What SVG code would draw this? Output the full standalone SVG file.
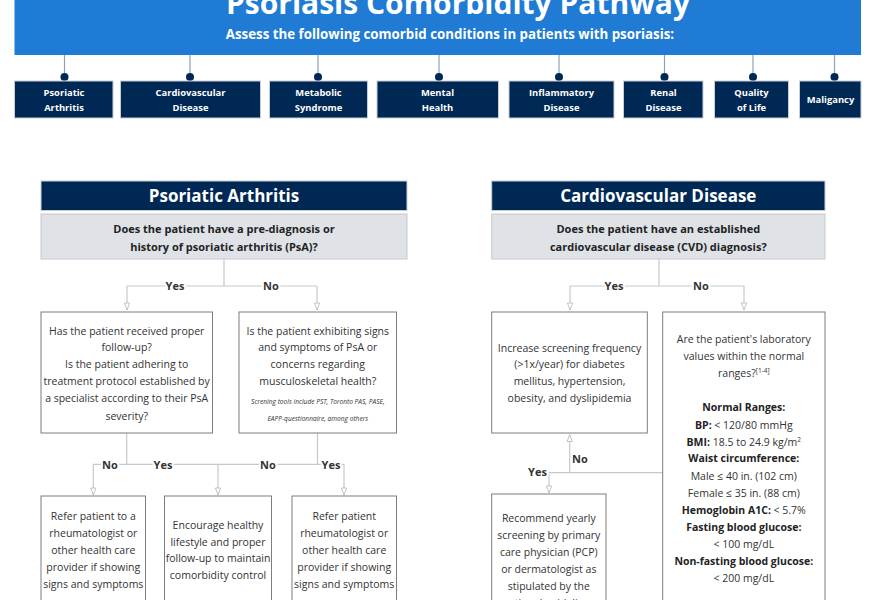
<svg xmlns="http://www.w3.org/2000/svg" width="870" height="600" viewBox="0 0 870 600">
<defs>
<style>
text{font-family:"Open Sans","Liberation Sans",sans-serif;}
.title{font-size:30px;font-weight:700;fill:#fff;text-anchor:middle;}
.sub{font-size:13.3px;font-weight:700;fill:#fff;text-anchor:middle;}
.cat{fill:#002855;stroke:#c9ced6;stroke-width:1;}
.catt{font-size:9.4px;font-weight:700;fill:#fff;text-anchor:middle;}
.stem{stroke:#8da2bd;stroke-width:1.2;fill:none;}
.dot{fill:#002855;}
.hdr{fill:#002855;stroke:#c9ced6;stroke-width:1;}
.hdrt{font-size:17px;font-weight:700;fill:#fff;text-anchor:middle;}
.q{fill:#dfe2e6;stroke:#c6cacf;stroke-width:1;}
.qt{font-size:11px;font-weight:700;fill:#222;text-anchor:middle;}
.box{fill:#fff;stroke:#7d7d7d;stroke-width:1;}
.bt{font-size:10.5px;fill:#333;text-anchor:middle;}
.bb{font-size:10.5px;font-weight:700;fill:#222;text-anchor:middle;}
.it{font-size:6.6px;font-style:italic;fill:#333;text-anchor:middle;}
.ln{stroke:#c5c9ce;stroke-width:1.2;fill:none;}
.lbl{font-size:11px;font-weight:700;fill:#333;text-anchor:middle;stroke:#fff;stroke-width:4;paint-order:stroke;stroke-linejoin:round;}
</style>
<marker id="arr" viewBox="0 0 10 8" refX="9" refY="4" markerWidth="9" markerHeight="7" orient="auto" markerUnits="userSpaceOnUse">
<path d="M1,1 L9,4 L1,7 Z" fill="#fff" stroke="#b5bcc5" stroke-width="1"/>
</marker>
</defs>

<g id="header">
<rect x="14.5" y="-5" width="846.5" height="60" fill="#1f7bd4"/>
<text class="title" x="458" y="14">Psoriasis Comorbidity Pathway</text>
<text class="sub" x="450" y="38.5">Assess the following comorbid conditions in patients with psoriasis:</text>
</g>

<g id="stems">
<path class="stem" d="M64.5,55V77 M190,55V77 M318,55V77 M439,55V77 M559,55V77 M664.5,55V77 M753,55V77 M834.5,55V77"/>
<circle class="dot" cx="64.5" cy="77" r="4"/>
<circle class="dot" cx="190" cy="77" r="4"/>
<circle class="dot" cx="318" cy="77" r="4"/>
<circle class="dot" cx="439" cy="77" r="4"/>
<circle class="dot" cx="559" cy="77" r="4"/>
<circle class="dot" cx="664.5" cy="77" r="4"/>
<circle class="dot" cx="753" cy="77" r="4"/>
<circle class="dot" cx="834.5" cy="77" r="4"/>
</g>

<g id="cat-psa"><rect class="cat" x="14.5" y="81" width="98.5" height="37"/><text class="catt" x="64" y="95.5">Psoriatic</text><text class="catt" x="64" y="111">Arthritis</text></g>
<g id="cat-cvd"><rect class="cat" x="120.5" y="81" width="140" height="37"/><text class="catt" x="190.5" y="95.5">Cardiovascular</text><text class="catt" x="190.5" y="111">Disease</text></g>
<g id="cat-met"><rect class="cat" x="269.5" y="81" width="98" height="37"/><text class="catt" x="318.5" y="95.5">Metabolic</text><text class="catt" x="318.5" y="111">Syndrome</text></g>
<g id="cat-mental"><rect class="cat" x="377" y="81" width="121.5" height="37"/><text class="catt" x="437.5" y="95.5">Mental</text><text class="catt" x="437.5" y="111">Health</text></g>
<g id="cat-inf"><rect class="cat" x="509" y="81" width="105" height="37"/><text class="catt" x="561.5" y="95.5">Inflammatory</text><text class="catt" x="561.5" y="111">Disease</text></g>
<g id="cat-renal"><rect class="cat" x="623.5" y="81" width="79.5" height="37"/><text class="catt" x="663.5" y="95.5">Renal</text><text class="catt" x="663.5" y="111">Disease</text></g>
<g id="cat-qol"><rect class="cat" x="714.5" y="81" width="74" height="37"/><text class="catt" x="751.5" y="95.5">Quality</text><text class="catt" x="751.5" y="111">of Life</text></g>
<g id="cat-mal"><rect class="cat" x="799.5" y="81" width="61.5" height="37"/><text class="catt" x="830.5" y="103">Maligancy</text></g>

<g id="connectors">
<path class="ln" d="M224,259V286 M127,286H317 M127,286V310" marker-end="url(#arr)"/>
<path class="ln" d="M317,286V310" marker-end="url(#arr)"/>
<path class="ln" d="M126.7,433V464.3 M93.3,464.3H218 M93.3,464.3V495" marker-end="url(#arr)"/>
<path class="ln" d="M218,464.3V495" marker-end="url(#arr)"/>
<path class="ln" d="M317.5,433V464.3 M218,464.3H344 M344,464.3V495" marker-end="url(#arr)"/>
<path class="ln" d="M659,259V286 M570,286H744 M570,286V310" marker-end="url(#arr)"/>
<path class="ln" d="M744,286V310" marker-end="url(#arr)"/>
<path class="ln" d="M662.7,472.7H549 M569.7,472.7V434.5" marker-end="url(#arr)"/>
<path class="ln" d="M549,472.7V493" marker-end="url(#arr)"/>
<text class="lbl" x="175" y="290">Yes</text>
<text class="lbl" x="271" y="290">No</text>
<text class="lbl" x="110" y="469">No</text>
<text class="lbl" x="163" y="469">Yes</text>
<text class="lbl" x="268" y="469">No</text>
<text class="lbl" x="331" y="469">Yes</text>
<text class="lbl" x="614" y="290">Yes</text>
<text class="lbl" x="701" y="290">No</text>
<text class="lbl" x="580" y="463">No</text>
<text class="lbl" x="537.5" y="475.5">Yes</text>
</g>

<g id="psa-header"><rect class="hdr" x="41" y="181" width="366" height="29.5"/><text class="hdrt" x="224" y="202">Psoriatic Arthritis</text></g>
<g id="psa-q"><rect class="q" x="41" y="214" width="366" height="45"/><text class="qt" x="224" y="233">Does the patient have a pre-diagnosis or</text><text class="qt" x="224" y="251">history of psoriatic arthritis (PsA)?</text></g>
<g id="psa-followup"><rect class="box" x="41" y="312" width="171.5" height="121"/>
<text class="bt" x="126.7" y="334.5">Has the patient received proper</text>
<text class="bt" x="126.7" y="351">follow-up?</text>
<text class="bt" x="126.7" y="368">Is the patient adhering to</text>
<text class="bt" x="126.7" y="385">treatment protocol established by</text>
<text class="bt" x="126.7" y="402">a specialist according to their PsA</text>
<text class="bt" x="126.7" y="419.5">severity?</text></g>
<g id="psa-signs"><rect class="box" x="239" y="312" width="157.5" height="121"/>
<text class="bt" x="317.8" y="334.5">Is the patient exhibiting signs</text>
<text class="bt" x="317.8" y="351">and symptoms of PsA or</text>
<text class="bt" x="317.8" y="368">concerns regarding</text>
<text class="bt" x="317.8" y="385">musculoskeletal health?</text>
<text class="it" x="317.8" y="404">Screning tools include PST, Toronto PAS, PASE,</text>
<text class="it" x="317.8" y="420.5">EAPP-questionnaire, among others</text></g>
<g id="psa-refer1"><rect class="box" x="41" y="496" width="104.5" height="120"/>
<text class="bt" x="93.3" y="520">Refer patient to a</text>
<text class="bt" x="93.3" y="537">rheumatologist or</text>
<text class="bt" x="93.3" y="554">other health care</text>
<text class="bt" x="93.3" y="571">provider if showing</text>
<text class="bt" x="93.3" y="588">signs and symptoms</text></g>
<g id="psa-encourage"><rect class="box" x="164.5" y="496" width="107" height="120"/>
<text class="bt" x="218" y="528.7">Encourage healthy</text>
<text class="bt" x="218" y="545.5">lifestyle and proper</text>
<text class="bt" x="218" y="562.3">follow-up to maintain</text>
<text class="bt" x="218" y="579.3">comorbidity control</text></g>
<g id="psa-refer2"><rect class="box" x="292" y="496" width="104.5" height="120"/>
<text class="bt" x="344.2" y="520">Refer patient</text>
<text class="bt" x="344.2" y="537">rheumatologist or</text>
<text class="bt" x="344.2" y="554">other health care</text>
<text class="bt" x="344.2" y="571">provider if showing</text>
<text class="bt" x="344.2" y="588">signs and symptoms</text></g>

<g id="cvd-header"><rect class="hdr" x="491.7" y="181" width="333.3" height="29.5"/><text class="hdrt" x="658.3" y="202">Cardiovascular Disease</text></g>
<g id="cvd-q"><rect class="q" x="491.7" y="214" width="333.3" height="45"/><text class="qt" x="658.3" y="233">Does the patient have an established</text><text class="qt" x="658.3" y="251">cardiovascular disease (CVD) diagnosis?</text></g>
<g id="cvd-increase"><rect class="box" x="491.7" y="312" width="155.6" height="121"/>
<text class="bt" x="569.5" y="351.5">Increase screening frequency</text>
<text class="bt" x="569.5" y="368">(&gt;1x/year) for diabetes</text>
<text class="bt" x="569.5" y="385.3">mellitus, hypertension,</text>
<text class="bt" x="569.5" y="402">obesity, and dyslipidemia</text></g>
<g id="cvd-labs"><rect class="box" x="662.7" y="312" width="162.3" height="310"/>
<text class="bt" x="743.8" y="342.7">Are the patient's laboratory</text>
<text class="bt" x="743.8" y="359.7">values within the normal</text>
<text class="bt" x="743.8" y="376.5">ranges?<tspan font-size="6.5" dy="-4">[1-4]</tspan></text>
<text class="bb" x="743.8" y="411">Normal Ranges:</text>
<text class="bt" x="743.8" y="428.5"><tspan font-weight="700" fill="#222">BP:</tspan> &lt; 120/80 mmHg</text>
<text class="bt" x="743.8" y="445.5"><tspan font-weight="700" fill="#222">BMI:</tspan> 18.5 to 24.9 kg/m<tspan font-size="6.5" dy="-4">2</tspan></text>
<text class="bb" x="743.8" y="462">Waist circumference:</text>
<text class="bt" x="743.8" y="479.5">Male ≤ 40 in. (102 cm)</text>
<text class="bt" x="743.8" y="496.5">Female ≤ 35 in. (88 cm)</text>
<text class="bt" x="743.8" y="513.7"><tspan font-weight="700" fill="#222">Hemoglobin A1C:</tspan> &lt; 5.7%</text>
<text class="bb" x="743.8" y="530.7">Fasting blood glucose:</text>
<text class="bt" x="743.8" y="547.7">&lt; 100 mg/dL</text>
<text class="bb" x="743.8" y="564.7">Non-fasting blood glucose:</text>
<text class="bt" x="743.8" y="581.5">&lt; 200 mg/dL</text></g>
<g id="cvd-recommend"><rect class="box" x="491.7" y="494" width="114.3" height="120"/>
<text class="bt" x="548.8" y="521.5">Recommend yearly</text>
<text class="bt" x="548.8" y="538.7">screening by primary</text>
<text class="bt" x="548.8" y="556">care physician (PCP)</text>
<text class="bt" x="548.8" y="572.7">or dermatologist as</text>
<text class="bt" x="548.8" y="589.7">stipulated by the</text>
<text class="bt" x="548.8" y="606.7">national guidelines</text></g>
</svg>
